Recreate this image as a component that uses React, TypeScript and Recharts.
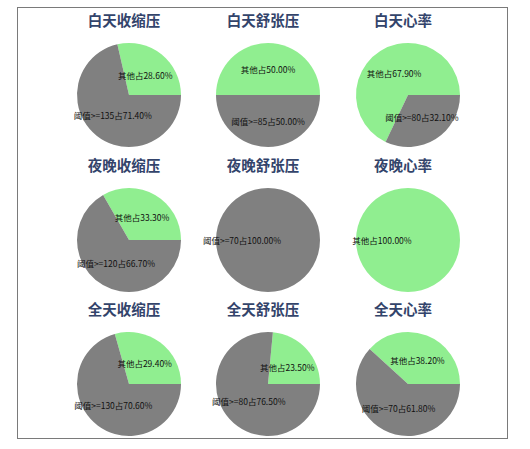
import { PieChart, Pie, Cell } from 'recharts'

// 9 small pies: share of readings at/above threshold vs the rest
const titles = [
  '白天收缩压', '白天舒张压', '白天心率',
  '夜晚收缩压', '夜晚舒张压', '夜晚心率',
  '全天收缩压', '全天舒张压', '全天心率',
]
const thresholdNames = [
  '阈值>=135', '阈值>=85', '阈值>=80',
  '阈值>=120', '阈值>=70', '阈值>=70',
  '阈值>=130', '阈值>=80', '阈值>=70',
]
const otherPct = [28.6, 50.0, 67.9, 33.3, 0, 100.0, 29.4, 23.5, 38.2]
const thresholdPct = [71.4, 50.0, 32.1, 66.7, 100.0, 0, 70.6, 76.5, 61.8]

const OTHER = '其他'
const GREEN = '#90ee90'
const GREY = '#808080'

const colX = [124, 263, 403]
const rowY = [90, 235, 379]
const RADIUS = 52
const RAD = Math.PI / 180

const pies = titles.map((title, i) => ({
  title,
  data: [
    { name: OTHER, value: otherPct[i] },
    { name: thresholdNames[i], value: thresholdPct[i] },
  ].filter(d => d.value > 0),
}))

const renderLabel = (props: any) => {
  const { cx, cy, midAngle, outerRadius, name, value } = props
  const r = outerRadius * 0.5
  const x = cx + r * Math.cos(-midAngle * RAD)
  const y = cy + r * Math.sin(-midAngle * RAD)
  return (
    <text x={x} y={y} textAnchor="middle" dominantBaseline="central"
      fill="#111" fontSize={8.5} fontFamily="'Noto Sans CJK SC', sans-serif">
      {`${name}占${Number(value).toFixed(2)}%`}
    </text>
  )
}

export default function App() {
  return (
    <div style={{ position: 'absolute', left: 0, top: 0, width: 530, height: 449, background: '#fff' }}>
      <div style={{
        position: 'absolute', left: 17, top: 7, width: 491, height: 432,
        border: '1px solid #7a7a7a', boxSizing: 'border-box',
      }} />
      {pies.map((p, i) => (
        <div key={p.title} style={{
          position: 'absolute', left: colX[i % 3] - 60, width: 120,
          top: rowY[Math.floor(i / 3)] - 80, height: 20, lineHeight: '20px',
          textAlign: 'center', fontSize: 14.5, fontWeight: 'bold', color: '#33446b',
          fontFamily: "'Noto Sans CJK SC', sans-serif",
        }}>
          {p.title}
        </div>
      ))}
      <div style={{ position: 'absolute', left: 0, top: 0 }}>
        <PieChart width={530} height={449}>
          {pies.map((p, i) => (
            <Pie
              key={p.title}
              data={p.data}
              dataKey="value"
              nameKey="name"
              cx={colX[i % 3]}
              cy={rowY[Math.floor(i / 3)]}
              outerRadius={RADIUS}
              startAngle={0}
              endAngle={360}
              stroke="none"
              label={renderLabel}
              labelLine={false}
              isAnimationActive={false}
            >
              {p.data.map(d => (
                <Cell key={d.name} fill={d.name === OTHER ? GREEN : GREY} />
              ))}
            </Pie>
          ))}
        </PieChart>
      </div>
    </div>
  )
}
